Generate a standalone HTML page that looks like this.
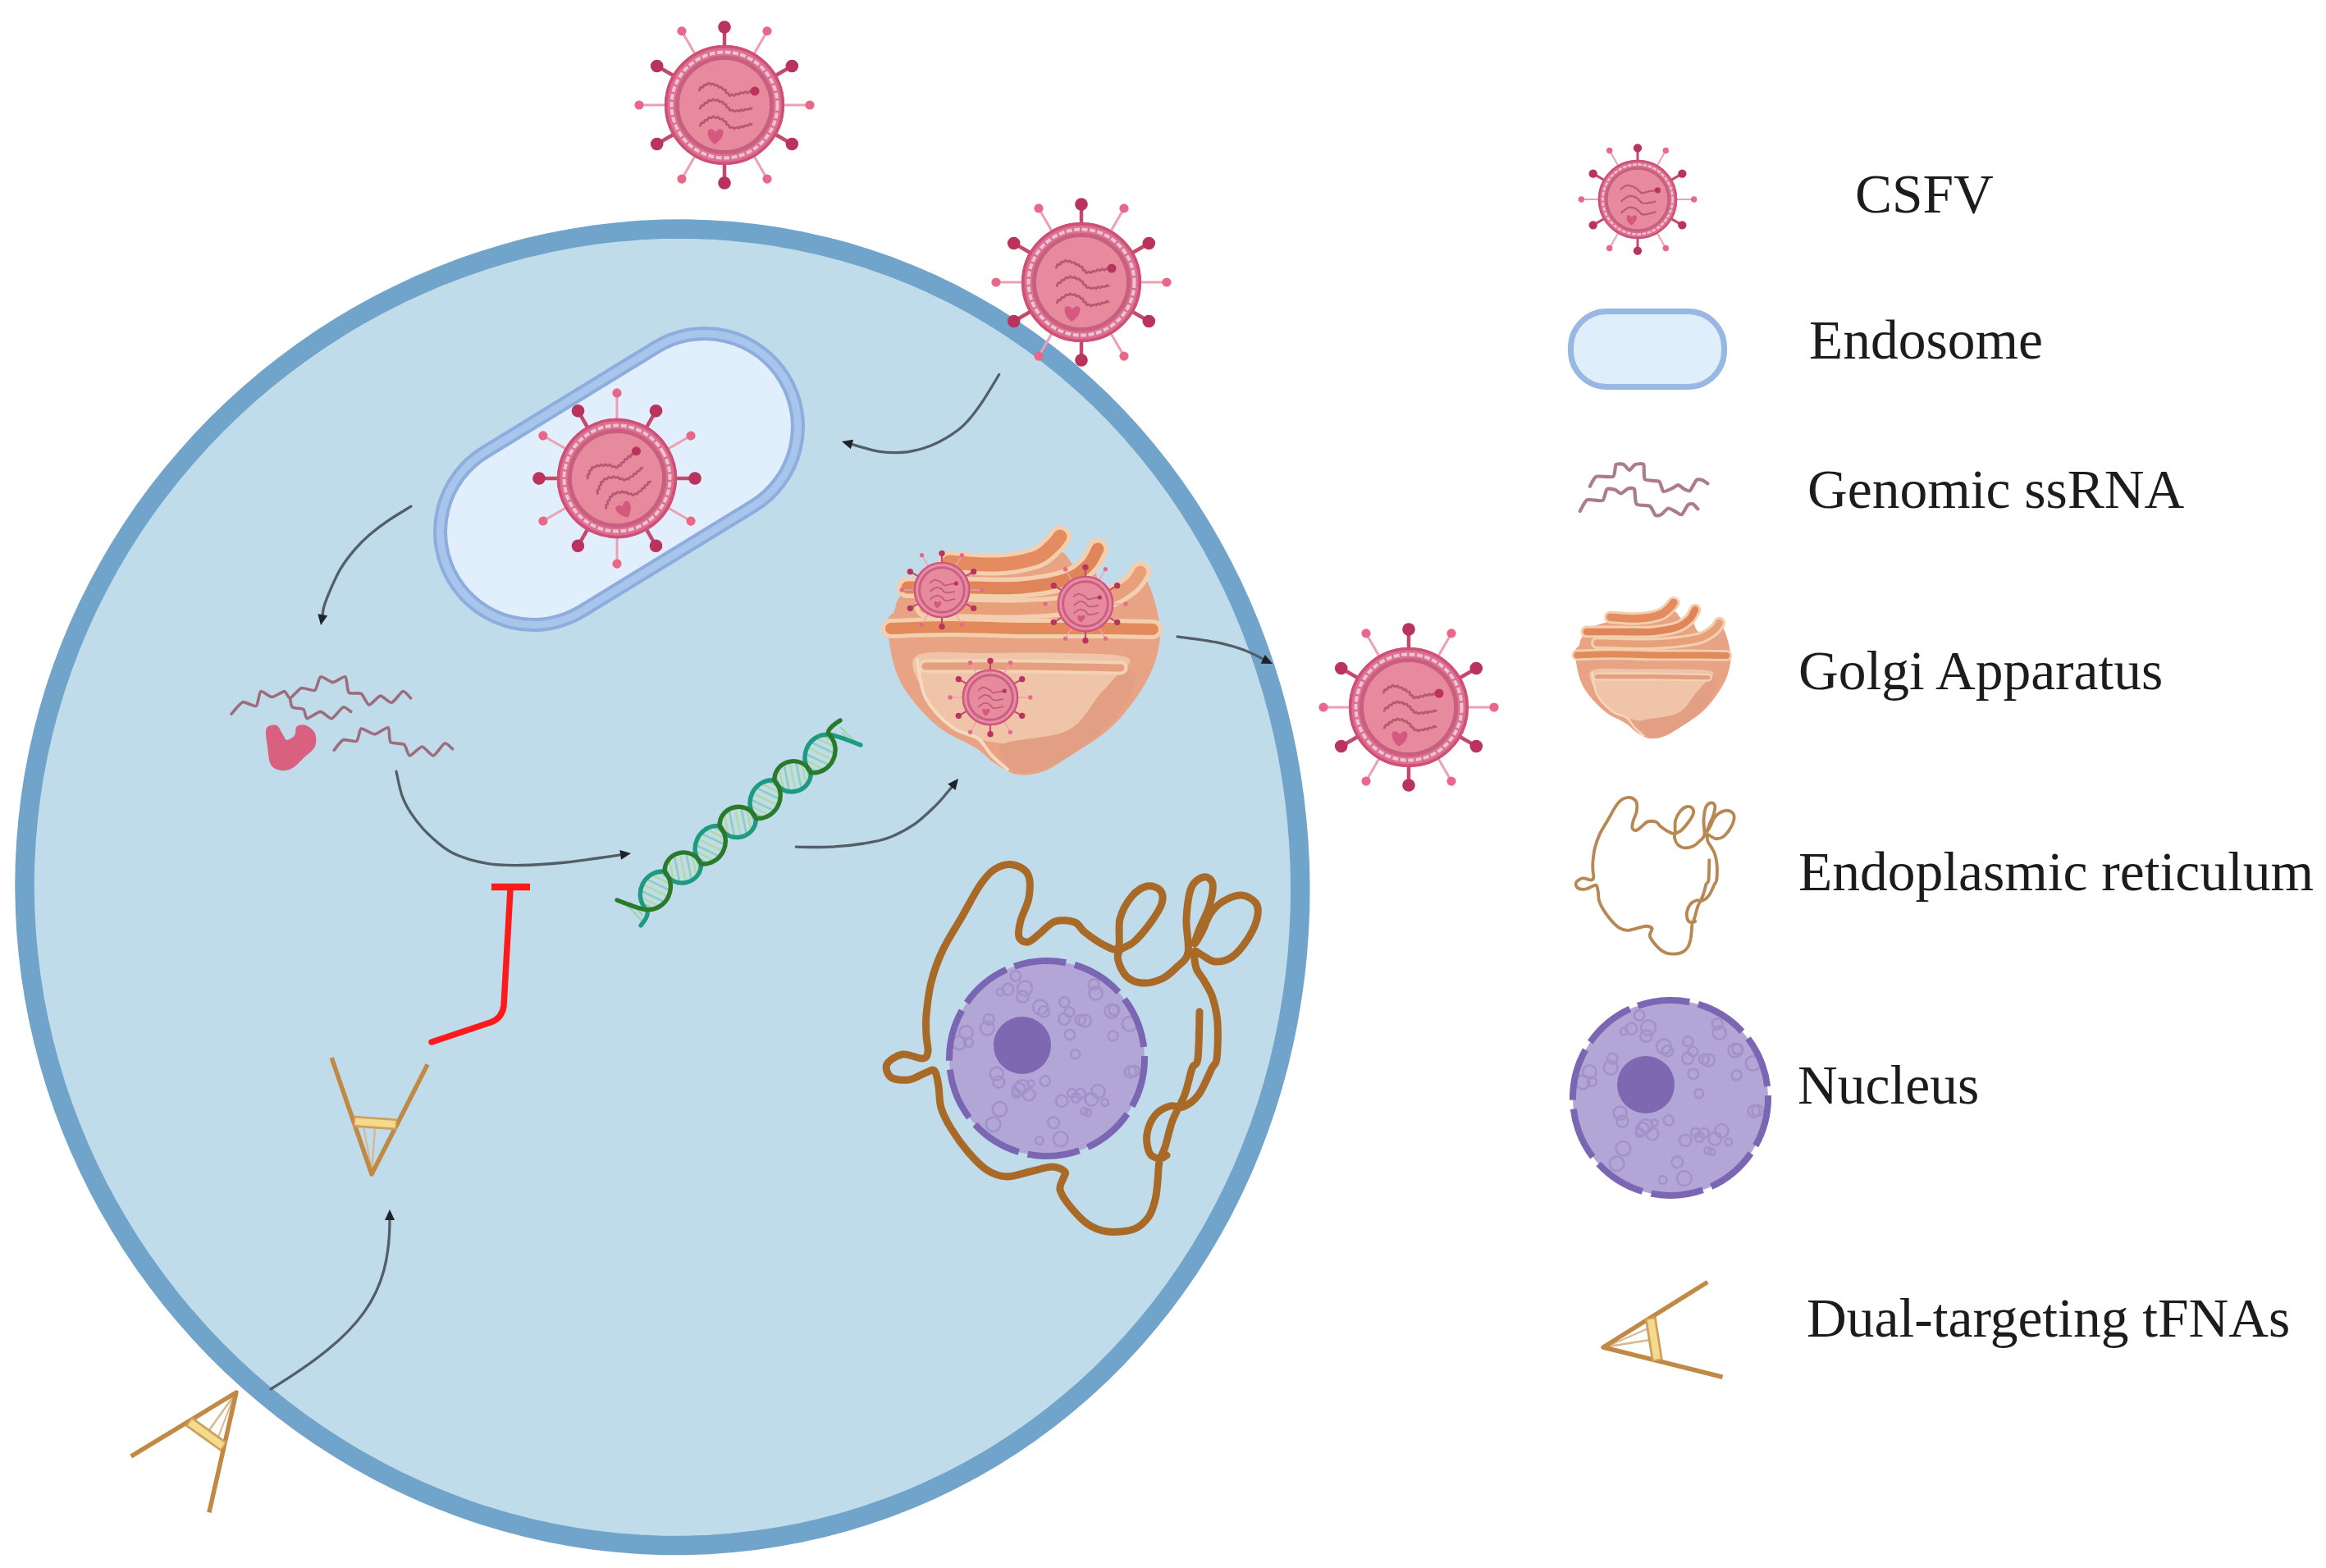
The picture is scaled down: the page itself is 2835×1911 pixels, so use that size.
<!DOCTYPE html><html><head><meta charset="utf-8"><title>CSFV tFNA diagram</title><style>html,body{margin:0;padding:0;background:#fff;}svg{display:block;}text{font-family:"Liberation Serif",serif;}</style></head><body><svg xmlns="http://www.w3.org/2000/svg" width="2835" height="1911" viewBox="0 0 2835 1911"><defs><g id="virus"><line x1="0" y1="-60" x2="0" y2="-95" stroke="#c44a6c" stroke-width="4.5"/><circle cx="0" cy="-95" r="7.8" fill="#b9335c"/><line x1="30" y1="-52" x2="52" y2="-90.1" stroke="#eda0b4" stroke-width="3"/><circle cx="52" cy="-90.1" r="5.6" fill="#e8688a"/><line x1="52" y1="-30" x2="82.3" y2="-47.5" stroke="#c44a6c" stroke-width="4.5"/><circle cx="82.3" cy="-47.5" r="7.8" fill="#b9335c"/><line x1="60" y1="-0" x2="104" y2="-0" stroke="#eda0b4" stroke-width="3"/><circle cx="104" cy="-0" r="5.6" fill="#e8688a"/><line x1="52" y1="30" x2="82.3" y2="47.5" stroke="#c44a6c" stroke-width="4.5"/><circle cx="82.3" cy="47.5" r="7.8" fill="#b9335c"/><line x1="30" y1="52" x2="52" y2="90.1" stroke="#eda0b4" stroke-width="3"/><circle cx="52" cy="90.1" r="5.6" fill="#e8688a"/><line x1="0" y1="60" x2="0" y2="95" stroke="#c44a6c" stroke-width="4.5"/><circle cx="0" cy="95" r="7.8" fill="#b9335c"/><line x1="-30" y1="52" x2="-52" y2="90.1" stroke="#eda0b4" stroke-width="3"/><circle cx="-52" cy="90.1" r="5.6" fill="#e8688a"/><line x1="-52" y1="30" x2="-82.3" y2="47.5" stroke="#c44a6c" stroke-width="4.5"/><circle cx="-82.3" cy="47.5" r="7.8" fill="#b9335c"/><line x1="-60" y1="0" x2="-104" y2="0" stroke="#eda0b4" stroke-width="3"/><circle cx="-104" cy="0" r="5.6" fill="#e8688a"/><line x1="-52" y1="-30" x2="-82.3" y2="-47.5" stroke="#c44a6c" stroke-width="4.5"/><circle cx="-82.3" cy="-47.5" r="7.8" fill="#b9335c"/><line x1="-30" y1="-52" x2="-52" y2="-90.1" stroke="#eda0b4" stroke-width="3"/><circle cx="-52" cy="-90.1" r="5.6" fill="#e8688a"/><circle r="63.5" fill="#dc7090" stroke="none"/><circle r="63.5" fill="none" stroke="#dc7090" stroke-width="19"/><circle r="71.3" fill="none" stroke="#cf4f78" stroke-width="3.6"/><circle r="64.5" fill="none" stroke="#efc3d0" stroke-width="4" stroke-dasharray="7 2.5"/><circle r="57.5" fill="none" stroke="#c85f80" stroke-width="5"/><circle r="55" fill="#e88a9d"/><path d="M-32,-18 L-31,-17.9 L-30.1,-18.4 L-29.8,-19.8 L-29.4,-21.3 L-27.7,-21.5 L-26,-21.7 L-25.5,-23.4 L-24.5,-24.8 L-22.6,-24.4 L-21.3,-24.7 L-20.4,-26.2 L-19.1,-26.8 L-17.7,-25.7 L-16.4,-25 L-14.7,-25.9 L-13.1,-25.8 L-12,-23.9 L-10.3,-23.8 L-8.4,-24.2 L-7.4,-22.4 L-6.1,-21.3 L-4.1,-21.9 L-2.9,-21.1 L-2.3,-19.4 L-1.4,-18.8 L0.1,-18.9 L1.3,-18.5 L1.6,-17.3 L1.5,-15.8 L2,-14.9 L3.2,-14.6 L4.4,-14.5 L5,-13.8 L5.2,-12.7 L5.8,-11.5 L6.9,-11.3 L8.1,-12.1 L9.1,-12.8 L10.4,-12.2 L11.8,-11.4 L13,-12.3 L14.1,-13.8 L15.6,-13.5 L17.3,-12.9 L18.4,-13.9 L19.4,-15.3 L20.8,-15.1 L22.1,-14.3 L23.2,-14.5 L24.3,-15.7 L25.4,-16.3 L26.7,-15.5 L27.9,-14.7 L29,-15.3 L30,-16.4 L30.9,-16.7 L31.9,-16.1 L32.8,-15.3 L33.5,-15.1 L34.1,-15.3" fill="none" stroke="#b95873" stroke-width="2.8" stroke-linejoin="round"/><path d="M-31,4 L-29.8,4.1 L-29,3.3 L-28.7,1.4 L-27.4,0.5 L-25.2,0.6 L-24.5,-1.3 L-23.4,-2.8 L-21,-2.6 L-20,-4.1 L-19,-5.8 L-17.2,-5.3 L-15.8,-5.2 L-14.8,-6.3 L-13.6,-7.2 L-12.4,-6.6 L-11.3,-5.4 L-10.1,-5.5 L-8.7,-6.3 L-7.4,-6.1 L-6.6,-4.7 L-5.7,-3.7 L-4.2,-4.1 L-2.7,-4.3 L-1.9,-3.2 L-1.4,-1.7 L-0.4,-1.2 L1.3,-1.1 L2.2,-0.1 L2.1,1.7 L2.8,2.8 L4.6,3.1 L5.7,3.8 L5.9,5.6 L6.9,6.7 L8.7,6.2 L10.1,6.3 L11.6,7.9 L13.6,7.2 L15.7,6.5 L18.1,7.7 L20.2,5.6 L22.9,6.9 L25,5.1 L27.4,5.4 L29.5,5.3 L31.1,3.6 L32.8,4.4 L34.1,4.9" fill="none" stroke="#b95873" stroke-width="2.8" stroke-linejoin="round"/><path d="M-31,25 L-29.8,25.1 L-29,24.3 L-28.7,22.4 L-27.4,21.5 L-25.2,21.6 L-24.5,19.7 L-23.4,18.2 L-21,18.4 L-20,16.9 L-19,15.2 L-17.2,15.7 L-15.8,15.8 L-14.8,14.7 L-13.6,13.8 L-12.4,14.4 L-11.3,15.6 L-10.1,15.5 L-8.7,14.7 L-7.4,14.9 L-6.6,16.3 L-5.7,17.3 L-4.2,16.9 L-2.7,16.7 L-1.9,17.8 L-1.4,19.3 L-0.4,19.8 L1.4,19.9 L2.2,21 L2.1,22.8 L2.9,23.9 L4.7,24.2 L5.7,25 L5.9,26.8 L7,27.8 L8.7,27.2 L10.1,27.3 L11.7,28.9 L13.6,27.9 L15.6,27.2 L18.2,28 L20.2,25.9 L23,27 L24.9,24.8 L27.5,25.3 L29.5,24.4 L31,22.9 L32.9,23.9 L34.2,23.7" fill="none" stroke="#b95873" stroke-width="2.8" stroke-linejoin="round"/><circle cx="37" cy="-17" r="5.5" fill="#b9335c"/><path d="M-20,31 C-22,38 -16,45 -12,48 C-6,44 0,38 -2,31 C-4,28 -8,29 -11,33 C-13,29 -18,28 -20,31Z" fill="#d4587f"/></g><g id="virus_s"><line x1="0" y1="-60" x2="0" y2="-95" stroke="#c44a6c" stroke-width="4.5"/><circle cx="0" cy="-95" r="7.8" fill="#b9335c"/><line x1="30" y1="-52" x2="52" y2="-90.1" stroke="#eda0b4" stroke-width="3"/><circle cx="52" cy="-90.1" r="5.6" fill="#e8688a"/><line x1="52" y1="-30" x2="82.3" y2="-47.5" stroke="#c44a6c" stroke-width="4.5"/><circle cx="82.3" cy="-47.5" r="7.8" fill="#b9335c"/><line x1="60" y1="-0" x2="104" y2="-0" stroke="#eda0b4" stroke-width="3"/><circle cx="104" cy="-0" r="5.6" fill="#e8688a"/><line x1="52" y1="30" x2="82.3" y2="47.5" stroke="#c44a6c" stroke-width="4.5"/><circle cx="82.3" cy="47.5" r="7.8" fill="#b9335c"/><line x1="30" y1="52" x2="52" y2="90.1" stroke="#eda0b4" stroke-width="3"/><circle cx="52" cy="90.1" r="5.6" fill="#e8688a"/><line x1="0" y1="60" x2="0" y2="95" stroke="#c44a6c" stroke-width="4.5"/><circle cx="0" cy="95" r="7.8" fill="#b9335c"/><line x1="-30" y1="52" x2="-52" y2="90.1" stroke="#eda0b4" stroke-width="3"/><circle cx="-52" cy="90.1" r="5.6" fill="#e8688a"/><line x1="-52" y1="30" x2="-82.3" y2="47.5" stroke="#c44a6c" stroke-width="4.5"/><circle cx="-82.3" cy="47.5" r="7.8" fill="#b9335c"/><line x1="-60" y1="0" x2="-104" y2="0" stroke="#eda0b4" stroke-width="3"/><circle cx="-104" cy="0" r="5.6" fill="#e8688a"/><line x1="-52" y1="-30" x2="-82.3" y2="-47.5" stroke="#c44a6c" stroke-width="4.5"/><circle cx="-82.3" cy="-47.5" r="7.8" fill="#b9335c"/><line x1="-30" y1="-52" x2="-52" y2="-90.1" stroke="#eda0b4" stroke-width="3"/><circle cx="-52" cy="-90.1" r="5.6" fill="#e8688a"/><circle r="63.5" fill="#dc7090" stroke="none"/><circle r="63.5" fill="none" stroke="#dc7090" stroke-width="19"/><circle r="71.3" fill="none" stroke="#cf4f78" stroke-width="3.6"/><circle r="64.5" fill="none" stroke="#e596ab" stroke-width="4"/><circle r="57.5" fill="none" stroke="#c85f80" stroke-width="5"/><circle r="55" fill="#e88a9d"/><path d="M-32,-18 L-31,-17.9 L-30.1,-18.4 L-29.8,-19.8 L-29.4,-21.3 L-27.7,-21.5 L-26,-21.7 L-25.5,-23.4 L-24.5,-24.8 L-22.6,-24.4 L-21.3,-24.7 L-20.4,-26.2 L-19.1,-26.8 L-17.7,-25.7 L-16.4,-25 L-14.7,-25.9 L-13.1,-25.8 L-12,-23.9 L-10.3,-23.8 L-8.4,-24.2 L-7.4,-22.4 L-6.1,-21.3 L-4.1,-21.9 L-2.9,-21.1 L-2.3,-19.4 L-1.4,-18.8 L0.1,-18.9 L1.3,-18.5 L1.6,-17.3 L1.5,-15.8 L2,-14.9 L3.2,-14.6 L4.4,-14.5 L5,-13.8 L5.2,-12.7 L5.8,-11.5 L6.9,-11.3 L8.1,-12.1 L9.1,-12.8 L10.4,-12.2 L11.8,-11.4 L13,-12.3 L14.1,-13.8 L15.6,-13.5 L17.3,-12.9 L18.4,-13.9 L19.4,-15.3 L20.8,-15.1 L22.1,-14.3 L23.2,-14.5 L24.3,-15.7 L25.4,-16.3 L26.7,-15.5 L27.9,-14.7 L29,-15.3 L30,-16.4 L30.9,-16.7 L31.9,-16.1 L32.8,-15.3 L33.5,-15.1 L34.1,-15.3" fill="none" stroke="#b95873" stroke-width="2.8" stroke-linejoin="round"/><path d="M-31,4 L-29.8,4.1 L-29,3.3 L-28.7,1.4 L-27.4,0.5 L-25.2,0.6 L-24.5,-1.3 L-23.4,-2.8 L-21,-2.6 L-20,-4.1 L-19,-5.8 L-17.2,-5.3 L-15.8,-5.2 L-14.8,-6.3 L-13.6,-7.2 L-12.4,-6.6 L-11.3,-5.4 L-10.1,-5.5 L-8.7,-6.3 L-7.4,-6.1 L-6.6,-4.7 L-5.7,-3.7 L-4.2,-4.1 L-2.7,-4.3 L-1.9,-3.2 L-1.4,-1.7 L-0.4,-1.2 L1.3,-1.1 L2.2,-0.1 L2.1,1.7 L2.8,2.8 L4.6,3.1 L5.7,3.8 L5.9,5.6 L6.9,6.7 L8.7,6.2 L10.1,6.3 L11.6,7.9 L13.6,7.2 L15.7,6.5 L18.1,7.7 L20.2,5.6 L22.9,6.9 L25,5.1 L27.4,5.4 L29.5,5.3 L31.1,3.6 L32.8,4.4 L34.1,4.9" fill="none" stroke="#b95873" stroke-width="2.8" stroke-linejoin="round"/><path d="M-31,25 L-29.8,25.1 L-29,24.3 L-28.7,22.4 L-27.4,21.5 L-25.2,21.6 L-24.5,19.7 L-23.4,18.2 L-21,18.4 L-20,16.9 L-19,15.2 L-17.2,15.7 L-15.8,15.8 L-14.8,14.7 L-13.6,13.8 L-12.4,14.4 L-11.3,15.6 L-10.1,15.5 L-8.7,14.7 L-7.4,14.9 L-6.6,16.3 L-5.7,17.3 L-4.2,16.9 L-2.7,16.7 L-1.9,17.8 L-1.4,19.3 L-0.4,19.8 L1.4,19.9 L2.2,21 L2.1,22.8 L2.9,23.9 L4.7,24.2 L5.7,25 L5.9,26.8 L7,27.8 L8.7,27.2 L10.1,27.3 L11.7,28.9 L13.6,27.9 L15.6,27.2 L18.2,28 L20.2,25.9 L23,27 L24.9,24.8 L27.5,25.3 L29.5,24.4 L31,22.9 L32.9,23.9 L34.2,23.7" fill="none" stroke="#b95873" stroke-width="2.8" stroke-linejoin="round"/><circle cx="37" cy="-17" r="5.5" fill="#b9335c"/><path d="M-20,31 C-22,38 -16,45 -12,48 C-6,44 0,38 -2,31 C-4,28 -8,29 -11,33 C-13,29 -18,28 -20,31Z" fill="#d4587f"/></g><g id="tfna"><line x1="0" y1="0" x2="59.5" y2="0" stroke="#d8b890" stroke-width="2.5"/><line x1="4" y1="0" x2="59.5" y2="-14.6" stroke="#d8b890" stroke-width="2"/><path d="M138.1,-58.6 L0,0 L138.1,58.6" fill="none" stroke="#c08a45" stroke-width="5.5" stroke-linejoin="round" stroke-linecap="butt"/><line x1="62.6" y1="-26.6" x2="62.6" y2="26.6" stroke="#cf9f5c" stroke-width="14" stroke-linecap="butt"/><line x1="62.6" y1="-24.6" x2="62.6" y2="24.6" stroke="#f3da8c" stroke-width="8.5" stroke-linecap="butt"/></g></defs><use href="#virus" transform="translate(883,128)"/><path d="M1584.8,1081.0 L1584.5,1108.1 L1583.3,1135.2 L1581.4,1162.3 L1578.5,1189.3 L1574.8,1216.2 L1570.3,1243.0 L1564.9,1269.7 L1558.7,1296.3 L1551.6,1322.6 L1543.6,1348.7 L1534.7,1374.6 L1525.0,1400.2 L1514.5,1425.6 L1503.0,1450.5 L1490.7,1475.2 L1477.5,1499.4 L1463.5,1523.1 L1448.6,1546.4 L1432.9,1569.2 L1416.3,1591.5 L1399.0,1613.1 L1380.8,1634.2 L1361.9,1654.6 L1342.2,1674.3 L1321.8,1693.3 L1300.6,1711.5 L1278.8,1729.0 L1256.3,1745.6 L1233.2,1761.4 L1209.5,1776.4 L1185.2,1790.4 L1160.4,1803.6 L1135.1,1815.7 L1109.4,1827.0 L1083.2,1837.2 L1056.7,1846.4 L1029.8,1854.7 L1002.7,1861.9 L975.3,1868.1 L947.7,1873.2 L919.9,1877.3 L892.0,1880.4 L864.0,1882.4 L836.0,1883.4 L808.0,1883.4 L780.0,1882.3 L752.1,1880.1 L724.3,1877.0 L696.7,1872.9 L669.3,1867.7 L642.1,1861.6 L615.1,1854.5 L588.5,1846.5 L562.2,1837.5 L536.3,1827.6 L510.7,1816.8 L485.6,1805.2 L460.9,1792.6 L436.7,1779.3 L413.0,1765.1 L389.9,1750.2 L367.2,1734.5 L345.2,1718.0 L323.8,1700.8 L302.9,1682.9 L282.7,1664.4 L263.2,1645.2 L244.3,1625.3 L226.2,1604.9 L208.7,1583.9 L192.0,1562.3 L176.0,1540.2 L160.7,1517.6 L146.3,1494.5 L132.6,1470.9 L119.7,1447.0 L107.7,1422.6 L96.4,1397.8 L86.0,1372.7 L76.5,1347.3 L67.8,1321.5 L60.0,1295.5 L53.1,1269.2 L47.0,1242.7 L41.9,1216.1 L37.7,1189.3 L34.4,1162.3 L32.0,1135.3 L30.6,1108.1 L30.0,1081.0 L30.4,1053.8 L31.8,1026.7 L34.1,999.7 L37.3,972.7 L41.4,945.8 L46.5,919.1 L52.5,892.6 L59.4,866.3 L67.2,840.3 L75.9,814.5 L85.5,789.1 L95.9,764.0 L107.2,739.2 L119.4,714.9 L132.4,690.9 L146.2,667.4 L160.7,644.4 L176.1,621.9 L192.2,599.9 L209.1,578.4 L226.7,557.6 L244.9,537.3 L263.9,517.6 L283.5,498.5 L303.8,480.1 L324.7,462.4 L346.2,445.3 L368.2,429.0 L390.8,413.4 L414.0,398.5 L437.6,384.5 L461.8,371.2 L486.4,358.7 L511.5,347.1 L536.9,336.3 L562.8,326.4 L589.0,317.3 L615.6,309.2 L642.4,302.0 L669.5,295.8 L696.9,290.5 L724.5,286.2 L752.2,282.9 L780.0,280.6 L808.0,279.3 L836.0,279.1 L864.0,279.9 L892.0,281.8 L919.9,284.7 L947.7,288.7 L975.3,293.7 L1002.8,299.8 L1030.0,306.9 L1056.9,315.1 L1083.4,324.3 L1109.6,334.6 L1135.3,345.8 L1160.6,358.0 L1185.4,371.2 L1209.7,385.3 L1233.3,400.3 L1256.4,416.2 L1278.8,433.0 L1300.6,450.6 L1321.6,468.9 L1341.9,488.0 L1361.5,507.8 L1380.3,528.3 L1398.3,549.5 L1415.5,571.2 L1432.0,593.5 L1447.5,616.3 L1462.3,639.7 L1476.2,663.4 L1489.3,687.6 L1501.6,712.2 L1513.0,737.2 L1523.5,762.4 L1533.2,788.0 L1542.1,813.8 L1550.1,839.9 L1557.3,866.1 L1563.7,892.6 L1569.2,919.2 L1573.9,946.0 L1577.7,972.8 L1580.7,999.8 L1582.9,1026.8 L1584.3,1053.9Z" fill="#c0dcea" stroke="#71a4cb" stroke-width="23.5"/><use href="#virus" transform="translate(1318,344)"/><g transform="translate(754.5,584) rotate(-31.5)"><rect x="-236" y="-113.5" width="472" height="227" rx="113.5" fill="#e1eefc" stroke="#8cadde" stroke-width="17"/><rect x="-236" y="-113.5" width="472" height="227" rx="113.5" fill="none" stroke="#a8c5ec" stroke-width="9"/></g><use href="#virus" transform="translate(752,583) rotate(-30)"/><path d="M1217.7,456.5 C1214.1,462.4 1203,481.5 1196,491.6 C1189,501.8 1182.3,510.5 1175.4,517.4 C1168.5,524.3 1161.7,528.6 1154.8,532.9 C1147.9,537.2 1141.1,540.5 1134.2,543.2 C1127.3,546 1119.5,548 1113.5,549.4 C1107.5,550.8 1104.9,551.3 1098,551.5 C1091.1,551.7 1079.9,551.4 1072.2,550.4 C1064.5,549.4 1058,547 1051.6,545.3 C1045.2,543.6 1036.5,541 1033.5,540.1" fill="none" stroke="#535e68" stroke-width="3.3" stroke-linecap="round"/><path d="M1026,538 L1040.1,535.8 L1036.9,547.3 Z" fill="#1e2328"/><path d="M500.9,617.2 C496.3,620.1 481.7,628.6 473.3,634.4 C464.9,640.1 457.1,646 450.4,651.7 C443.7,657.5 438.9,662.2 433.1,668.9 C427.4,675.6 420.7,684.1 415.9,691.8 C411.1,699.4 407.8,707.1 404.4,714.8 C401,722.5 397.3,731.2 395.3,737.8 C393.3,744.4 392.9,751.6 392.4,754.3" fill="none" stroke="#535e68" stroke-width="3.3" stroke-linecap="round"/><path d="M391,762 L387.4,748.2 L399.2,750.3 Z" fill="#1e2328"/><path d="M483,940.3 C484.3,945.5 487,962 490.6,971.3 C494.2,980.6 498.7,988 504.4,996 C510.1,1004 517,1012.1 525,1019.4 C533,1026.7 541,1034.5 552.5,1040 C564,1045.5 580,1050 593.8,1052.4 C607.5,1054.8 619,1054.7 635,1054.5 C651,1054.3 674,1052.5 690,1051 C706,1049.5 719.4,1047.1 731.3,1045.5 C743.2,1043.9 756.3,1041.9 761.3,1041.1" fill="none" stroke="#535e68" stroke-width="3.3" stroke-linecap="round"/><path d="M769,1040 L757,1047.8 L755.3,1035.9 Z" fill="#1e2328"/><path d="M970.3,1032.2 C977.2,1032.2 997.8,1032.9 1011.6,1032.2 C1025.4,1031.5 1040.9,1029.9 1052.9,1028 C1064.9,1026.1 1073.5,1024.8 1083.8,1020.8 C1094.1,1016.8 1105.3,1010.8 1114.8,1004.3 C1124.3,997.8 1133.7,988.3 1140.6,981.6 C1147.5,974.9 1152.3,968.4 1156.1,964 C1159.9,959.6 1162,956.6 1163.2,955.1" fill="none" stroke="#535e68" stroke-width="3.3" stroke-linecap="round"/><path d="M1168,949 L1164.6,962.9 L1155.2,955.5 Z" fill="#1e2328"/><path d="M1435.1,775.8 C1442.9,776.9 1468.4,780 1481.9,782.7 C1495.4,785.5 1506,788.5 1516.3,792.3 C1526.6,796.1 1539.4,803.4 1544,805.6" fill="none" stroke="#535e68" stroke-width="3.3" stroke-linecap="round"/><path d="M1551,809 L1536.7,808.8 L1541.9,798 Z" fill="#1e2328"/><path d="M330,1693 C440.8,1625 475,1579 475,1486" fill="none" stroke="#535e68" stroke-width="3.3" stroke-linecap="round"/><path d="M475,1474 L481,1487 L469,1487 Z" fill="#1e2328"/><path d="M282,870.2 C283.4,868.7 292.7,856.7 295.8,855.7 C298.8,854.7 310.1,861.8 312.3,860.5 C314.5,859.2 315.8,843.7 317.8,842.6 C319.7,841.5 328.6,849.5 331.5,849.5 C334.4,849.5 344.5,842.5 346.7,842.6 C348.9,842.8 351.5,851.3 353.5,850.9 C355.6,850.5 364.3,839.5 367.3,838.5 C370.3,837.6 381.5,842.6 383.8,841.3 C386.1,839.9 388.5,825.7 390.7,824.8 C392.9,823.8 402.8,831.6 405.8,831.6 C408.8,831.6 419,823.5 420.9,824.8 C422.9,826 423.1,842 425.1,844 C427,846.1 437.7,843.9 440.2,845.4 C442.7,846.9 447.5,858.9 449.8,859.1 C452.2,859.4 460.8,848.4 463.6,848.1 C466.3,847.9 474.6,856.9 477.3,856.4 C480.1,855.8 488.7,843.2 491.1,842.6 C493.4,842.1 499.8,850.1 500.7,850.9" fill="none" stroke="#9d6d7e" stroke-width="3.6" stroke-linejoin="round" stroke-linecap="round"/><path d="M353.5,850.9 C353.8,852 354.6,860.5 356.3,861.9 C357.9,863.3 368.3,863.3 370,864.6 C371.8,866 372.1,875.4 374.2,875.7 C376.2,875.9 387.6,867.4 390.7,867.4 C393.7,867.4 401.7,876.2 404.4,875.7 C407.2,875.1 415.8,862.7 418.2,861.9 C420.5,861.1 426.9,866.9 427.8,867.4" fill="none" stroke="#9d6d7e" stroke-width="3.6" stroke-linejoin="round" stroke-linecap="round"/><path d="M407.2,914.2 C408.3,912.9 415.4,902.9 418.2,901.8 C420.9,900.7 432.5,904.5 434.7,903.2 C436.9,901.8 438,888.9 440.2,888 C442.4,887.2 453.4,895 456.7,894.9 C460,894.8 471.3,885.7 473.2,886.7 C475.1,887.6 474,902.5 476,904.5 C477.9,906.6 490.1,905.6 492.5,907.3 C494.8,908.9 497.1,920.8 499.3,921 C501.5,921.3 511.6,910 514.5,910 C517.4,910 525.5,921.5 528.2,921 C531,920.6 539.6,906.7 542,905.9 C544.3,905.1 550.6,912.1 551.6,912.8" fill="none" stroke="#9d6d7e" stroke-width="3.6" stroke-linejoin="round" stroke-linecap="round"/><path d="M324.6,888 C326.5,883.7 333.8,883 337,883.9 C340.2,884.8 341.8,890.6 343.9,893.5 C346,896.5 346.9,901.3 349.4,901.8 C351.9,902.2 357,899 359,896.3 C361.1,893.5 359.5,887.3 361.8,885.3 C364.1,883.2 369.1,882.5 372.8,883.9 C376.5,885.3 382,889.2 383.8,893.5 C385.6,897.9 386.1,905 383.8,910 C381.5,915.1 374.6,919.4 370,923.8 C365.5,928.2 360.9,933.7 356.3,936.2 C351.7,938.7 346.9,939.6 342.5,938.9 C338.2,938.2 332.9,936.9 330.2,932 C327.4,927.2 326.9,917.4 326,910 C325.1,902.7 322.8,892.4 324.6,888Z" fill="#d9607f"/><line x1="796.6" y1="1107.8" x2="782.7" y2="1101.2" stroke="#8ccfb4" stroke-width="2.6"/><line x1="804.2" y1="1104.6" x2="780.5" y2="1093.3" stroke="#b2dba0" stroke-width="2.6"/><line x1="810.3" y1="1099.5" x2="780.7" y2="1085.3" stroke="#8ccfb4" stroke-width="2.6"/><line x1="814.6" y1="1092.9" x2="783.1" y2="1077.7" stroke="#b2dba0" stroke-width="2.6"/><line x1="817" y1="1085.3" x2="787.4" y2="1071.1" stroke="#8ccfb4" stroke-width="2.6"/><line x1="817.2" y1="1077.3" x2="793.5" y2="1066" stroke="#b2dba0" stroke-width="2.6"/><line x1="815" y1="1069.4" x2="801.1" y2="1062.8" stroke="#8ccfb4" stroke-width="2.6"/><line x1="811.6" y1="1053.4" x2="814.8" y2="1069.3" stroke="#8ccfb4" stroke-width="2.6"/><line x1="815.6" y1="1046.7" x2="821.1" y2="1073.9" stroke="#b2dba0" stroke-width="2.6"/><line x1="821.6" y1="1042" x2="828.4" y2="1076" stroke="#8ccfb4" stroke-width="2.6"/><line x1="828.6" y1="1039.4" x2="836" y2="1075.6" stroke="#b2dba0" stroke-width="2.6"/><line x1="836.2" y1="1039" x2="843" y2="1073" stroke="#8ccfb4" stroke-width="2.6"/><line x1="843.5" y1="1041.1" x2="849" y2="1068.3" stroke="#b2dba0" stroke-width="2.6"/><line x1="849.8" y1="1045.7" x2="853" y2="1061.6" stroke="#8ccfb4" stroke-width="2.6"/><line x1="863.5" y1="1052.2" x2="849.6" y2="1045.6" stroke="#8ccfb4" stroke-width="2.6"/><line x1="871.1" y1="1049" x2="847.4" y2="1037.7" stroke="#b2dba0" stroke-width="2.6"/><line x1="877.2" y1="1043.9" x2="847.6" y2="1029.7" stroke="#8ccfb4" stroke-width="2.6"/><line x1="881.5" y1="1037.3" x2="850" y2="1022.1" stroke="#b2dba0" stroke-width="2.6"/><line x1="883.9" y1="1029.7" x2="854.3" y2="1015.5" stroke="#8ccfb4" stroke-width="2.6"/><line x1="884.1" y1="1021.7" x2="860.4" y2="1010.4" stroke="#b2dba0" stroke-width="2.6"/><line x1="881.9" y1="1013.8" x2="868" y2="1007.2" stroke="#8ccfb4" stroke-width="2.6"/><line x1="878.5" y1="997.8" x2="881.7" y2="1013.7" stroke="#8ccfb4" stroke-width="2.6"/><line x1="882.5" y1="991.1" x2="888" y2="1018.3" stroke="#b2dba0" stroke-width="2.6"/><line x1="888.5" y1="986.4" x2="895.3" y2="1020.4" stroke="#8ccfb4" stroke-width="2.6"/><line x1="895.5" y1="983.8" x2="902.9" y2="1020" stroke="#b2dba0" stroke-width="2.6"/><line x1="903.1" y1="983.4" x2="909.9" y2="1017.4" stroke="#8ccfb4" stroke-width="2.6"/><line x1="910.4" y1="985.5" x2="915.9" y2="1012.7" stroke="#b2dba0" stroke-width="2.6"/><line x1="916.7" y1="990.1" x2="919.9" y2="1006" stroke="#8ccfb4" stroke-width="2.6"/><line x1="930.4" y1="996.6" x2="916.5" y2="990" stroke="#8ccfb4" stroke-width="2.6"/><line x1="938" y1="993.4" x2="914.3" y2="982.1" stroke="#b2dba0" stroke-width="2.6"/><line x1="944.1" y1="988.3" x2="914.5" y2="974.1" stroke="#8ccfb4" stroke-width="2.6"/><line x1="948.4" y1="981.7" x2="916.9" y2="966.5" stroke="#b2dba0" stroke-width="2.6"/><line x1="950.8" y1="974.1" x2="921.2" y2="959.9" stroke="#8ccfb4" stroke-width="2.6"/><line x1="951" y1="966.1" x2="927.3" y2="954.8" stroke="#b2dba0" stroke-width="2.6"/><line x1="948.8" y1="958.2" x2="934.9" y2="951.6" stroke="#8ccfb4" stroke-width="2.6"/><line x1="945.4" y1="942.2" x2="948.6" y2="958.1" stroke="#8ccfb4" stroke-width="2.6"/><line x1="949.4" y1="935.5" x2="954.9" y2="962.7" stroke="#b2dba0" stroke-width="2.6"/><line x1="955.4" y1="930.8" x2="962.2" y2="964.8" stroke="#8ccfb4" stroke-width="2.6"/><line x1="962.4" y1="928.2" x2="969.8" y2="964.4" stroke="#b2dba0" stroke-width="2.6"/><line x1="970" y1="927.8" x2="976.8" y2="961.8" stroke="#8ccfb4" stroke-width="2.6"/><line x1="977.3" y1="929.9" x2="982.8" y2="957.1" stroke="#b2dba0" stroke-width="2.6"/><line x1="983.6" y1="934.5" x2="986.8" y2="950.4" stroke="#8ccfb4" stroke-width="2.6"/><line x1="997.3" y1="941" x2="983.4" y2="934.4" stroke="#8ccfb4" stroke-width="2.6"/><line x1="1004.9" y1="937.8" x2="981.2" y2="926.5" stroke="#b2dba0" stroke-width="2.6"/><line x1="1011" y1="932.7" x2="981.4" y2="918.5" stroke="#8ccfb4" stroke-width="2.6"/><line x1="1015.3" y1="926.1" x2="983.8" y2="910.9" stroke="#b2dba0" stroke-width="2.6"/><line x1="1017.7" y1="918.5" x2="988.1" y2="904.3" stroke="#8ccfb4" stroke-width="2.6"/><line x1="1017.9" y1="910.5" x2="994.2" y2="899.2" stroke="#b2dba0" stroke-width="2.6"/><line x1="1015.7" y1="902.6" x2="1001.8" y2="896" stroke="#8ccfb4" stroke-width="2.6"/><line x1="760" y1="1098" x2="782" y2="1122" stroke="#9fd4b0" stroke-width="2.4"/><line x1="768" y1="1100" x2="784" y2="1116" stroke="#9fd4b0" stroke-width="2.4"/><line x1="1024" y1="886" x2="1042" y2="904" stroke="#9fd4b0" stroke-width="2.4"/><line x1="1026" y1="893" x2="1036" y2="903" stroke="#9fd4b0" stroke-width="2.4"/><path d="M781,1128 Q792.8,1114.1 787.7,1108.6 C770.7,1090.1 784.9,1060.3 810,1062 C819.9,1085.2 854.4,1078.2 854.6,1053 C837.6,1034.5 851.8,1004.7 876.9,1006.4 C886.8,1029.6 921.3,1022.6 921.5,997.4 C904.5,978.9 918.7,949.1 943.8,950.8 C953.7,974 988.2,967 988.4,941.8 C971.4,923.3 985.6,893.5 1010.7,895.2 Q1018.2,895.7 1049,908" fill="none" stroke="#1f9a82" stroke-width="5.4" stroke-linecap="round"/><path d="M752,1097 Q780.2,1108.1 787.7,1108.6 C812.8,1110.3 827,1080.5 810,1062 C810.2,1036.8 844.7,1029.8 854.6,1053 C879.7,1054.7 893.9,1024.9 876.9,1006.4 C877.1,981.2 911.6,974.2 921.5,997.4 C946.6,999.1 960.8,969.3 943.8,950.8 C944,925.6 978.5,918.6 988.4,941.8 C1013.5,943.5 1027.7,913.7 1010.7,895.2 Q1005.6,889.7 1024,878" fill="none" stroke="#2a7a2c" stroke-width="5.4" stroke-linecap="round"/><g id="golgi"><path d="M1082,757 C1081.3,765.3 1083.7,783.2 1086,795 C1088.3,806.8 1091,817.5 1096,828 C1101,838.5 1107.3,847.8 1116,858 C1124.7,868.2 1135.7,880 1148,889 C1160.3,898 1179.3,905.2 1190,912 C1200.7,918.8 1203.7,924.7 1212,930 C1220.3,935.3 1230,942.3 1240,944 C1250,945.7 1261.5,943.7 1272,940 C1282.5,936.3 1290.2,930.2 1303,922 C1315.8,913.8 1336.2,901.8 1349,891 C1361.8,880.2 1371,869 1380,857 C1389,845 1397.5,831 1403,819 C1408.5,807 1411.3,794.8 1413,785 C1414.7,775.2 1413.8,768.3 1413,760 C1412.2,751.7 1410.2,743 1408,735 C1405.8,727 1403,717.8 1400,712 C1397,706.2 1395,700 1390,700 C1385,700 1377.5,709.3 1370,712 C1362.5,714.7 1351.7,719.7 1345,716 C1338.3,712.3 1335.8,694.3 1330,690 C1324.2,685.7 1316.7,693 1310,690 C1303.3,687 1301.7,672 1290,672 C1278.3,672 1258.3,687 1240,690 C1221.7,693 1200,687.5 1180,690 C1160,692.5 1134,698.7 1120,705 C1106,711.3 1101,721.3 1096,728 C1091,734.7 1092.3,740.2 1090,745 C1087.7,749.8 1082.7,748.7 1082,757Z" fill="#e8a385"/><path d="M1116,800 C1104.3,809 1122.2,835.3 1130,850 C1137.8,864.7 1147.2,878.7 1163,888 C1178.8,897.3 1201.8,905.7 1225,906 C1248.2,906.3 1282.7,900 1302,890 C1321.3,880 1329.3,858.5 1341,846 C1352.7,833.5 1367.2,822.7 1372,815 C1376.8,807.3 1382,803.2 1370,800 C1358,796.8 1328.3,796.7 1300,796 C1271.7,795.3 1230.7,795.3 1200,796 C1169.3,796.7 1127.7,791 1116,800Z" fill="#efc4a8"/><path d="M1225,906 C1238.3,900.2 1282.7,900 1302,890 C1321.3,880 1329.3,858.5 1341,846 C1352.7,833.5 1364.8,817.7 1372,815 C1379.2,812.3 1385.7,820.5 1384,830 C1382.3,839.5 1374,857.7 1362,872 C1350,886.3 1327,905.3 1312,916 C1297,926.7 1284,932 1272,936 C1260,940 1248.3,941.8 1240,940 C1231.7,938.2 1224.5,930.7 1222,925 C1219.5,919.3 1211.7,911.8 1225,906Z" fill="#e39f83"/><path d="M1118,804 C1119.7,811.7 1121,836.3 1128,850 C1135,863.7 1149.3,877.7 1160,886 C1170.7,894.3 1184,894.3 1192,900 C1200,905.7 1202,913.7 1208,920 C1214,926.3 1224.7,935 1228,938" fill="none" stroke="#f5dac0" stroke-width="4" stroke-linecap="round"/><path d="M1128,812 C1148.3,812 1210.3,811.7 1250,812 C1289.7,812.3 1346.7,813.7 1366,814" fill="none" stroke="#f3d2b6" stroke-width="17" stroke-linecap="round"/><path d="M1128,812 C1148.3,812 1210.3,811.7 1250,812 C1289.7,812.3 1346.7,813.7 1366,814" fill="none" stroke="#e59e7e" stroke-width="9" stroke-linecap="round"/><path d="M1086,766 C1098.3,765.7 1132.7,764 1160,764 C1187.3,764 1220,765.7 1250,766 C1280,766.3 1314.2,765.8 1340,766 C1365.8,766.2 1394.2,766.8 1405,767" fill="none" stroke="#f4cfae" stroke-width="24" stroke-linecap="round" stroke-linejoin="round"/><path d="M1086,766 C1098.3,765.7 1132.7,764 1160,764 C1187.3,764 1220,765.7 1250,766 C1280,766.3 1314.2,765.8 1340,766 C1365.8,766.2 1394.2,766.8 1405,767" fill="none" stroke="#e38a5c" stroke-width="14" stroke-linecap="round" stroke-linejoin="round"/><path d="M1128,740 C1136.7,740.2 1161.3,740.7 1180,741 C1198.7,741.3 1220,742.5 1240,742 C1260,741.5 1281.7,740.2 1300,738 C1318.3,735.8 1337,733.2 1350,729 C1363,724.8 1371.3,718.3 1378,713 C1384.7,707.7 1388,699.7 1390,697" fill="none" stroke="#f4cfae" stroke-width="26" stroke-linecap="round" stroke-linejoin="round"/><path d="M1128,740 C1136.7,740.2 1161.3,740.7 1180,741 C1198.7,741.3 1220,742.5 1240,742 C1260,741.5 1281.7,740.2 1300,738 C1318.3,735.8 1337,733.2 1350,729 C1363,724.8 1371.3,718.3 1378,713 C1384.7,707.7 1388,699.7 1390,697" fill="none" stroke="#e7a07a" stroke-width="15" stroke-linecap="round" stroke-linejoin="round"/><path d="M1106,716 C1118.3,716 1156.8,716 1180,716 C1203.2,716 1225,717.7 1245,716 C1265,714.3 1286.5,710.5 1300,706 C1313.5,701.5 1319.7,695.2 1326,689 C1332.3,682.8 1336,672.3 1338,669" fill="none" stroke="#f4cfae" stroke-width="26" stroke-linecap="round" stroke-linejoin="round"/><path d="M1106,716 C1118.3,716 1156.8,716 1180,716 C1203.2,716 1225,717.7 1245,716 C1265,714.3 1286.5,710.5 1300,706 C1313.5,701.5 1319.7,695.2 1326,689 C1332.3,682.8 1336,672.3 1338,669" fill="none" stroke="#e0855a" stroke-width="15" stroke-linecap="round" stroke-linejoin="round"/><path d="M1157,685 C1166.7,685.5 1197.5,688.8 1215,688 C1232.5,687.2 1250.7,683.8 1262,680 C1273.3,676.2 1278,669.3 1283,665 C1288,660.7 1290.5,655.8 1292,654" fill="none" stroke="#f4cfae" stroke-width="27" stroke-linecap="round" stroke-linejoin="round"/><path d="M1157,685 C1166.7,685.5 1197.5,688.8 1215,688 C1232.5,687.2 1250.7,683.8 1262,680 C1273.3,676.2 1278,669.3 1283,665 C1288,660.7 1290.5,655.8 1292,654" fill="none" stroke="#e48c5f" stroke-width="17" stroke-linecap="round" stroke-linejoin="round"/></g><use href="#virus_s" transform="translate(1148,719) scale(0.47)"/><use href="#virus_s" transform="translate(1323,736) scale(0.47)"/><use href="#virus_s" transform="translate(1207,850) scale(0.47)"/><g id="nucleus"><circle cx="1276" cy="1290" r="119" fill="#b2a6d6"/><g fill="none" stroke="#9d8cc6" stroke-width="2.6" opacity="0.75"><circle cx="1254" cy="1334" r="7.3"/><circle cx="1338.5" cy="1330.1" r="8.1"/><circle cx="1356.6" cy="1262.5" r="6"/><circle cx="1310.8" cy="1284.8" r="5.4"/><circle cx="1297.2" cy="1242" r="6.9"/><circle cx="1217.3" cy="1318.7" r="6.9"/><circle cx="1214.7" cy="1308.6" r="8"/><circle cx="1203.2" cy="1253.2" r="8.4"/><circle cx="1267.9" cy="1227.5" r="8.9"/><circle cx="1330.4" cy="1339.9" r="7.8"/><circle cx="1321.7" cy="1354.5" r="4.2"/><circle cx="1228.4" cy="1205.7" r="6.9"/><circle cx="1322.3" cy="1244" r="7.5"/><circle cx="1205.3" cy="1242.3" r="6.3"/><circle cx="1333.2" cy="1199.8" r="6.4"/><circle cx="1249.1" cy="1204.5" r="9"/><circle cx="1303.4" cy="1233.6" r="5.9"/><circle cx="1316.8" cy="1333" r="6"/><circle cx="1303.8" cy="1260.9" r="6.2"/><circle cx="1177.4" cy="1258.4" r="8.1"/><circle cx="1316.8" cy="1243.1" r="6.1"/><circle cx="1210.6" cy="1370.3" r="8.8"/><circle cx="1306.3" cy="1332.2" r="5.2"/><circle cx="1284.2" cy="1368.3" r="6.9"/><circle cx="1273.8" cy="1317.4" r="6.1"/><circle cx="1218.5" cy="1351.8" r="8.8"/><circle cx="1246.4" cy="1214.7" r="7.1"/><circle cx="1354.9" cy="1232.3" r="8.4"/><circle cx="1297.3" cy="1221.4" r="6"/><circle cx="1346.7" cy="1343.8" r="4.3"/><circle cx="1256.6" cy="1320.5" r="4"/><circle cx="1377.7" cy="1306.4" r="7.1"/><circle cx="1311.5" cy="1338" r="5.7"/><circle cx="1245.9" cy="1324.5" r="8.2"/><circle cx="1266.7" cy="1390.1" r="4.8"/><circle cx="1382" cy="1305.5" r="6.6"/><circle cx="1326.1" cy="1356" r="4.1"/><circle cx="1169.1" cy="1270.9" r="8.3"/><circle cx="1241.9" cy="1327.9" r="7.9"/><circle cx="1180.4" cy="1270.1" r="5.6"/><circle cx="1292.8" cy="1388.1" r="8.9"/><circle cx="1335.6" cy="1210.7" r="8.1"/><circle cx="1272.4" cy="1232.9" r="6.6"/><circle cx="1238" cy="1189.5" r="6.2"/><circle cx="1376.7" cy="1247.9" r="8.8"/><circle cx="1238.7" cy="1332.6" r="5.1"/><circle cx="1294.1" cy="1341.9" r="7.1"/><circle cx="1357.9" cy="1230.7" r="6.4"/><circle cx="1219.4" cy="1209" r="4.4"/></g><circle cx="1276" cy="1290" r="119" fill="none" stroke="#7a66b2" stroke-width="8" stroke-dasharray="63.8 11" transform="rotate(-109.5 1276 1290)"/><circle cx="1246" cy="1274" r="35" fill="#7d68b1"/></g><g id="er"><path d="M1462,1233 C1461.7,1242.5 1461.5,1278.5 1460,1290 C1458.5,1301.5 1455.7,1294.7 1453,1302 C1450.3,1309.3 1448,1323.3 1444,1334 C1440,1344.7 1433,1355.3 1429,1366 C1425,1376.7 1422.7,1389.7 1420,1398 C1417.3,1406.3 1414.5,1409 1413,1416 C1411.5,1423 1411.8,1432.3 1411,1440 C1410.2,1447.7 1409.8,1454.8 1408,1462 C1406.2,1469.2 1404.3,1477 1400,1483 C1395.7,1489 1390.3,1495 1382,1498 C1373.7,1501 1359.3,1502 1350,1501 C1340.7,1500 1333.7,1497.2 1326,1492 C1318.3,1486.8 1309.7,1477 1304,1470 C1298.3,1463 1293.3,1455.7 1292,1450 C1290.7,1444.3 1295,1439.7 1296,1436 C1297,1432.3 1300.2,1430.3 1298,1428 C1295.8,1425.7 1289.5,1422.2 1283,1422 C1276.5,1421.8 1268.3,1425 1259,1427 C1249.7,1429 1236.3,1434.2 1227,1434 C1217.7,1433.8 1210.8,1431 1203,1426 C1195.2,1421 1187.3,1412.5 1180,1404 C1172.7,1395.5 1164.5,1384 1159,1375 C1153.5,1366 1149.5,1358.5 1147,1350 C1144.5,1341.5 1145.3,1331.5 1144,1324 C1142.7,1316.5 1141.8,1307.7 1139,1305 C1136.2,1302.3 1132.2,1306.2 1127,1308 C1121.8,1309.8 1114.8,1315.2 1108,1316 C1101.2,1316.8 1090.5,1316.2 1086,1313 C1081.5,1309.8 1078.7,1301.7 1081,1297 C1083.3,1292.3 1092.8,1286.2 1100,1285 C1107.2,1283.8 1118.8,1290.5 1124,1290 C1129.2,1289.5 1130.2,1286.7 1131,1282 C1131.8,1277.3 1129.3,1269.5 1129,1262 C1128.7,1254.5 1128,1247.8 1129,1237 C1130,1226.2 1131.7,1210.2 1135,1197 C1138.3,1183.8 1142.8,1171.2 1149,1158 C1155.2,1144.8 1164.3,1131.3 1172,1118 C1179.7,1104.7 1188.2,1087.8 1195,1078 C1201.8,1068.2 1206.3,1063 1213,1059 C1219.7,1055 1228.3,1052.8 1235,1054 C1241.7,1055.2 1249.8,1059.3 1253,1066 C1256.2,1072.7 1255.5,1084.7 1254,1094 C1252.5,1103.3 1246,1114 1244,1122 C1242,1130 1240.5,1137.7 1242,1142 C1243.5,1146.3 1248.8,1148.7 1253,1148 C1257.2,1147.3 1261.5,1142.2 1267,1138 C1272.5,1133.8 1278.8,1125.3 1286,1123 C1293.2,1120.7 1304,1121.8 1310,1124 C1316,1126.2 1316,1131.3 1322,1136 C1328,1140.7 1339.2,1148.8 1346,1152 C1352.8,1155.2 1359.8,1160.3 1363,1155 C1366.2,1149.7 1362.3,1130.3 1365,1120 C1367.7,1109.7 1373.5,1099.7 1379,1093 C1384.5,1086.3 1392.2,1081.3 1398,1080 C1403.8,1078.7 1411,1081.5 1414,1085 C1417,1088.5 1418,1094.3 1416,1101 C1414,1107.7 1407.7,1117.2 1402,1125 C1396.3,1132.8 1388.2,1142.5 1382,1148 C1375.8,1153.5 1368.2,1154.2 1365,1158 C1361.8,1161.8 1361.7,1165.7 1363,1171 C1364.3,1176.3 1368.2,1185.5 1373,1190 C1377.8,1194.5 1384.8,1197.5 1392,1198 C1399.2,1198.5 1409,1196.2 1416,1193 C1423,1189.8 1428.7,1184.3 1434,1179 C1439.3,1173.7 1446,1170.8 1448,1161 C1450,1151.2 1445.3,1133.2 1446,1120 C1446.7,1106.8 1448.5,1090.5 1452,1082 C1455.5,1073.5 1462.7,1069.8 1467,1069 C1471.3,1068.2 1476.8,1071.2 1478,1077 C1479.2,1082.8 1476.7,1094.8 1474,1104 C1471.3,1113.2 1465,1124.3 1462,1132 C1459,1139.7 1455.5,1149.3 1456,1150 C1456.5,1150.7 1461.8,1142 1465,1136 C1468.2,1130 1470.8,1120.2 1475,1114 C1479.2,1107.8 1483.7,1102.8 1490,1099 C1496.3,1095.2 1506.2,1090.7 1513,1091 C1519.8,1091.3 1527.8,1096.2 1531,1101 C1534.2,1105.8 1533.7,1112.8 1532,1120 C1530.3,1127.2 1526,1136.3 1521,1144 C1516,1151.7 1508.7,1161.3 1502,1166 C1495.3,1170.7 1487.2,1172.3 1481,1172 C1474.8,1171.7 1469.2,1166 1465,1164 C1460.8,1162 1457.2,1157.3 1456,1160 C1454.8,1162.7 1456,1174 1458,1180 C1460,1186 1464.7,1190 1468,1196 C1471.3,1202 1475.3,1207.5 1478,1216 C1480.7,1224.5 1483.2,1234.7 1484,1247 C1484.8,1259.3 1484.2,1280.8 1483,1290 C1481.8,1299.2 1480.7,1294.7 1477,1302 C1473.3,1309.3 1466.8,1326.2 1461,1334 C1455.2,1341.8 1447.8,1346.7 1442,1349 C1436.2,1351.3 1431.7,1346.3 1426,1348 C1420.3,1349.7 1412.7,1353.3 1408,1359 C1403.3,1364.7 1399.2,1374.3 1398,1382 C1396.8,1389.7 1398.5,1400 1401,1405 C1403.5,1410 1409.5,1411.5 1413,1412 C1416.5,1412.5 1420.5,1408.7 1422,1408" fill="none" stroke="#a86a26" stroke-width="9" stroke-linecap="round" stroke-linejoin="round"/></g><path d="M526,1270 L598,1246 Q612,1241 614,1226 L622,1084" fill="none" stroke="#fe1a1a" stroke-width="7.5" stroke-linejoin="round" stroke-linecap="round"/><line x1="599" y1="1081" x2="646" y2="1081" stroke="#fe1a1a" stroke-width="8.5"/><use href="#tfna" transform="translate(453,1431) rotate(-86)"/><use href="#tfna" transform="translate(288,1697) rotate(125.75)"/><use href="#virus" transform="translate(1717,862)"/><use href="#virus" transform="translate(1996,243) scale(0.66)"/><rect x="1914.5" y="379.5" width="187" height="92" rx="44" fill="#e0eefc" stroke="#97b8e2" stroke-width="7"/><path d="M1937.8,592.8 C1938.6,591.6 1942.7,582 1945.6,580.8 C1948.4,579.6 1963.8,582.3 1966.2,580.8 C1968.6,579.3 1968.4,567.6 1969.6,566.2 C1970.9,564.7 1977.5,565.5 1979.1,566.2 C1980.7,566.9 1984.6,573.1 1986,573.1 C1987.4,573.1 1991.1,566.9 1992.9,566.2 C1994.6,565.5 2002,564.4 2003.2,566.2 C2004.4,568 2003,582.2 2004.9,584.2 C2006.8,586.3 2019.9,585.4 2022.1,586.8 C2024.3,588.3 2025.7,598 2027.3,598.9 C2028.8,599.7 2035.8,596.2 2037.6,595.4 C2039.4,594.6 2043.8,591 2045.3,591.1 C2046.9,591.2 2051.6,595.6 2053.1,596.3 C2054.5,597 2058.5,599.1 2059.9,598 C2061.4,596.9 2066.2,586.4 2067.7,585.1 C2069.1,583.8 2073.2,584.7 2074.5,585.1 C2075.9,585.5 2080.7,589 2081.4,589.4" fill="none" stroke="#ad7c88" stroke-width="4.2" stroke-linejoin="round" stroke-linecap="round"/><path d="M1925.8,622.9 C1926.7,621.6 1931.6,610.5 1934.4,609.2 C1937.1,607.9 1950.9,611.3 1953.3,610 C1955.7,608.7 1956.9,597.6 1958.5,596.3 C1960,595 1967.1,596.6 1968.8,597.1 C1970.5,597.6 1974.1,601.6 1975.7,601.4 C1977.2,601.3 1982.6,595.9 1984.3,595.4 C1985.9,594.9 1991,594.4 1992,596.3 C1993,598.2 1992.7,612.3 1994.6,614.3 C1996.5,616.4 2008.6,615.5 2010.9,616.9 C2013.2,618.3 2016.4,627.1 2017.8,628.1 C2019.2,629.1 2023.1,628.1 2024.7,627.2 C2026.2,626.4 2031.5,619.8 2033.3,619.5 C2035.1,619.1 2041.1,623 2042.7,623.8 C2044.4,624.6 2048.2,628.1 2049.6,627.2 C2051.1,626.4 2056,616.5 2057.4,615.2 C2058.7,613.9 2062.2,613.8 2063.4,614.3 C2064.6,614.8 2068.8,619.7 2069.4,620.3" fill="none" stroke="#ad7c88" stroke-width="4.2" stroke-linejoin="round" stroke-linecap="round"/><use href="#golgi" transform="translate(1303.4,361.8) scale(0.57)"/><g opacity="0.8"><use href="#er" transform="translate(1460.5,523) scale(0.426)"/></g><use href="#nucleus" transform="translate(760,48)"/><use href="#tfna" transform="translate(1954,1642) rotate(-9)"/><g font-family="Liberation Serif, serif" font-size="67.5" fill="#1c1c1c"><text x="2261" y="259">CSFV</text><text x="2205" y="437">Endosome</text><text x="2203" y="619">Genomic ssRNA</text><text x="2192" y="840">Golgi Apparatus</text><text x="2192" y="1085">Endoplasmic reticulum</text><text x="2191" y="1345">Nucleus</text><text x="2202" y="1629">Dual-targeting tFNAs</text></g></svg></body></html>
